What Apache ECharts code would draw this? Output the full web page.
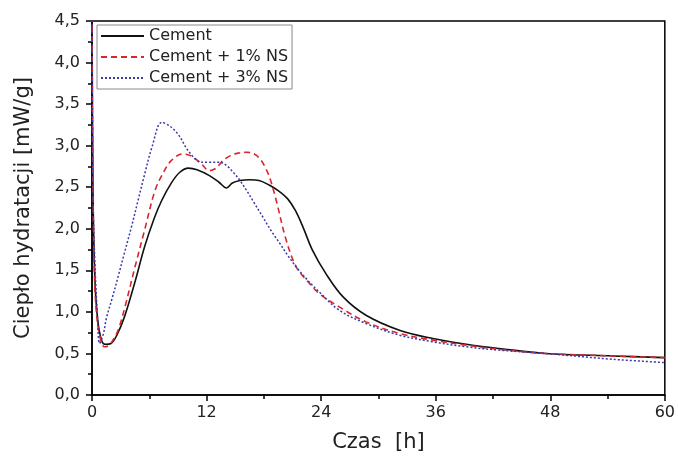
<!DOCTYPE html>
<html>
<head>
<meta charset="utf-8">
<script src="https://cdn.jsdelivr.net/npm/echarts@6/dist/echarts.min.js"></script>
<style>
    html, body { margin: 0; padding: 0; background: #fff; }
    #chart { width: 678px; height: 463px; }
</style>
</head>
<body>
<div id="chart"></div>
<script>
const seriesNames = ['Cement', 'Cement + 1% NS', 'Cement + 3% NS'];

const cementH = [0, 0.1, 0.3, 0.6, 1.0, 1.4, 2.0, 2.6, 3.4, 4.5, 5.5, 6.5, 7.3, 8.3, 9.2, 10.1, 11.0, 12.3, 13.3, 14.1, 14.7, 15.5, 16.5, 17.5, 18.5, 19.5, 20.5, 21.3, 22.1, 23.1, 24.5, 26.3, 28.7, 32.2, 35.7, 39.2, 42.6, 47.5, 54.5, 60];
const cementV = [4.8, 2.5, 1.4, 0.9, 0.66, 0.61, 0.62, 0.72, 0.94, 1.36, 1.78, 2.12, 2.34, 2.55, 2.68, 2.73, 2.71, 2.64, 2.56, 2.49, 2.55, 2.58, 2.59, 2.58, 2.53, 2.46, 2.36, 2.22, 2.02, 1.74, 1.46, 1.18, 0.96, 0.78, 0.68, 0.61, 0.56, 0.50, 0.47, 0.45];

const ns1H = [0, 0.1, 0.3, 0.6, 1.0, 1.3, 1.8, 2.3, 2.8, 3.5, 4.5, 5.5, 6.6, 7.5, 8.3, 9.5, 10.3, 11.3, 12.3, 13.0, 13.7, 14.5, 15.3, 16.2, 17.0, 17.6, 18.1, 18.6, 19.3, 20.3, 21.4, 22.8, 23.8, 25.9, 28.7, 32.2, 35.7, 39.2, 42.6, 47.5, 54.5, 60];
const ns1V = [4.8, 2.5, 1.3, 0.85, 0.63, 0.58, 0.6, 0.68, 0.8, 1.08, 1.54, 1.98, 2.46, 2.68, 2.82, 2.90, 2.88, 2.80, 2.70, 2.73, 2.82, 2.88, 2.91, 2.92, 2.90, 2.84, 2.75, 2.62, 2.34, 1.88, 1.54, 1.34, 1.22, 1.06, 0.88, 0.74, 0.66, 0.60, 0.55, 0.50, 0.47, 0.45];

const ns3H = [0, 0.1, 0.3, 0.55, 0.8, 1.2, 1.5, 2.1, 2.75, 3.4, 4.15, 4.8, 5.5, 6.3, 7.3, 8.1, 9.0, 10.2, 11.5, 12.3, 13.4, 14.1, 14.8, 15.5, 16.2, 17.0, 17.9, 18.8, 19.7, 20.5, 21.4, 22.6, 23.8, 25.9, 28.7, 32.2, 35.7, 39.2, 42.6, 47.5, 54.5, 60];
const ns3V = [4.8, 2.4, 1.6, 1.0, 0.62, 0.74, 0.92, 1.16, 1.43, 1.71, 2.03, 2.33, 2.65, 2.99, 3.28, 3.24, 3.14, 2.92, 2.80, 2.80, 2.80, 2.76, 2.68, 2.58, 2.46, 2.31, 2.14, 1.97, 1.82, 1.68, 1.54, 1.38, 1.24, 1.02, 0.86, 0.72, 0.64, 0.58, 0.54, 0.50, 0.43, 0.39];

const xTicks = [0, 12, 24, 36, 48, 60];
const yTicks = [0, 0.5, 1, 1.5, 2, 2.5, 3, 3.5, 4, 4.5];

const zip = (xs, ys) => xs.map((x, i) => [x, ys[i]]);

const font = 'DejaVu Sans';
const myChart = echarts.init(document.getElementById('chart'));

const line = (name, data, color, type, width) => ({
    name,
    type: 'line',
    data,
    smooth: 0.35,
    symbol: 'none',
    clip: true,
    lineStyle: { color, type, width },
    itemStyle: { color }
});

myChart.setOption({
    animation: false,
    textStyle: { fontFamily: font },
    grid: {
        left: 92,
        right: 12,
        top: 21,
        bottom: 68,
        show: true,
        borderColor: '#000',
        borderWidth: 1.5,
        backgroundColor: 'transparent'
    },
    legend: {
        orient: 'vertical',
        left: 97,
        top: 25,
        padding: [3, 4, 3, 3],
        itemWidth: 43,
        itemHeight: 14,
        itemGap: 5,
        borderColor: '#8a8a8a',
        borderWidth: 1,
        itemStyle: { opacity: 0, color: 'transparent', borderWidth: 0 },
        textStyle: { fontFamily: font, fontSize: 16, color: '#222' },
        data: seriesNames
    },
    xAxis: {
        type: 'value',
        min: xTicks[0],
        max: xTicks[xTicks.length - 1],
        interval: xTicks[1] - xTicks[0],
        name: 'Czas  [h]',
        nameLocation: 'middle',
        nameGap: 37,
        nameTextStyle: { fontFamily: font, fontSize: 21, color: '#222' },
        axisLine: { lineStyle: { color: '#000', width: 1.5 } },
        axisTick: { inside: false, length: 6, lineStyle: { color: '#000', width: 1.5 } },
        minorTick: { show: true, splitNumber: 2, length: 4, lineStyle: { color: '#000', width: 1.5 } },
        splitLine: { show: false },
        axisLabel: { fontFamily: font, fontSize: 16, color: '#222', margin: 10 }
    },
    yAxis: {
        type: 'value',
        min: yTicks[0],
        max: yTicks[yTicks.length - 1],
        interval: yTicks[1] - yTicks[0],
        name: 'Ciepło hydratacji [mW/g]',
        nameLocation: 'middle',
        nameGap: 58,
        nameTextStyle: { fontFamily: font, fontSize: 21, color: '#222' },
        axisLine: { show: true, lineStyle: { color: '#000', width: 1.5 } },
        axisTick: { show: true, inside: false, length: 6, lineStyle: { color: '#000', width: 1.5 } },
        minorTick: { show: true, splitNumber: 2, length: 4, lineStyle: { color: '#000', width: 1.5 } },
        splitLine: { show: false },
        axisLabel: {
            fontFamily: font,
            fontSize: 16,
            color: '#222',
            margin: 12,
            formatter: v => v.toFixed(1).replace('.', ',')
        }
    },
    series: [
        line(seriesNames[0], zip(cementH, cementV), '#111', 'solid', 1.6),
        line(seriesNames[1], zip(ns1H, ns1V), '#d9262b', [6, 4], 1.6),
        line(seriesNames[2], zip(ns3H, ns3V), '#3a3aa8', [2, 2], 1.5)
    ]
});
</script>
</body>
</html>
